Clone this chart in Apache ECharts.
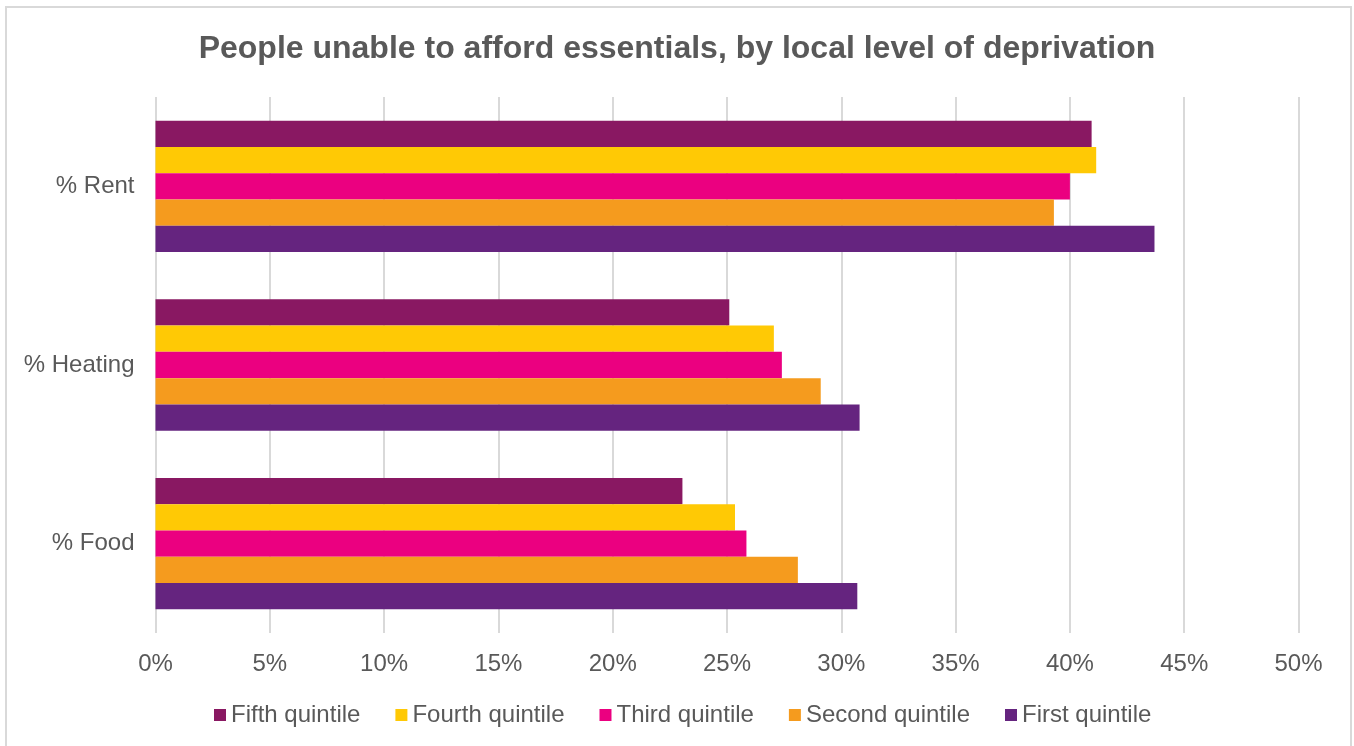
<!DOCTYPE html>
<html>
<head>
<meta charset="utf-8">
<style>
  html, body { margin: 0; padding: 0; background: #ffffff; }
  #chart { width: 1354px; height: 746px; }
</style>
<script src="https://cdn.jsdelivr.net/npm/echarts@6/dist/echarts.min.js"></script>
</head>
<body>
<div id="chart"></div>
<script>
// Categories, listed bottom to top on the vertical axis
const categories = ['% Food', '% Heating', '% Rent'];

// Share of people unable to afford each essential (%), by quintile of local deprivation
const firstQuintile  = [30.7, 30.8, 43.7];
const secondQuintile = [28.1, 29.1, 39.3];
const thirdQuintile  = [25.85, 27.4, 40.0];
const fourthQuintile = [25.35, 27.05, 41.15];
const fifthQuintile  = [23.05, 25.1, 40.95];

const textColor = '#595959';
const font = '"Liberation Sans", Arial, sans-serif';

// Within each band the first series sits on top
const seriesDefs = [
  { name: 'Fifth quintile',  data: fifthQuintile,  color: '#891862' },
  { name: 'Fourth quintile', data: fourthQuintile, color: '#ffc905' },
  { name: 'Third quintile',  data: thirdQuintile,  color: '#eb0080' },
  { name: 'Second quintile', data: secondQuintile, color: '#f59b1e' },
  { name: 'First quintile',  data: firstQuintile,  color: '#65247f' }
];

const chart = echarts.init(document.getElementById('chart'), null, { renderer: 'canvas' });

chart.setOption({
  backgroundColor: '#ffffff',
  animation: false,
  title: {
    text: 'People unable to afford essentials, by local level of deprivation',
    left: 'center',
    top: 28,
    textStyle: { fontFamily: font, fontSize: 32, fontWeight: 'bold', color: textColor }
  },
  graphic: [{
    type: 'rect',
    shape: { x: 6, y: 7, width: 1345, height: 760 },
    style: { fill: 'none', stroke: '#d9d9d9', lineWidth: 2 },
    silent: true
  }],
  legend: {
    data: seriesDefs.map(s => s.name),
    bottom: 14,
    left: 209,
    itemWidth: 12,
    itemHeight: 12,
    itemGap: 35,
    icon: 'rect',
    textStyle: { fontFamily: font, fontSize: 24, color: textColor, padding: [0, 0, 0, 0] }
  },
  grid: { left: 155.5, right: 55.5, top: 97, bottom: 113, containLabel: false },
  xAxis: {
    type: 'value',
    min: 0,
    max: 50,
    interval: 5,
    axisLine: { show: false },
    axisTick: { show: false },
    axisLabel: {
      formatter: '{value}%',
      fontFamily: font, fontSize: 24, color: textColor, margin: 19
    },
    splitLine: { lineStyle: { color: '#d9d9d9', width: 2 } }
  },
  yAxis: {
    type: 'category',
    data: categories,
    axisLine: { show: false },
    axisTick: { show: false },
    axisLabel: { fontFamily: font, fontSize: 24, color: textColor, margin: 21 }
  },
  series: seriesDefs.map(s => ({
    name: s.name,
    type: 'bar',
    data: s.data,
    barGap: '0%',
    barCategoryGap: '26.5%',
    itemStyle: { color: s.color }
  }))
});
</script>
</body>
</html>
